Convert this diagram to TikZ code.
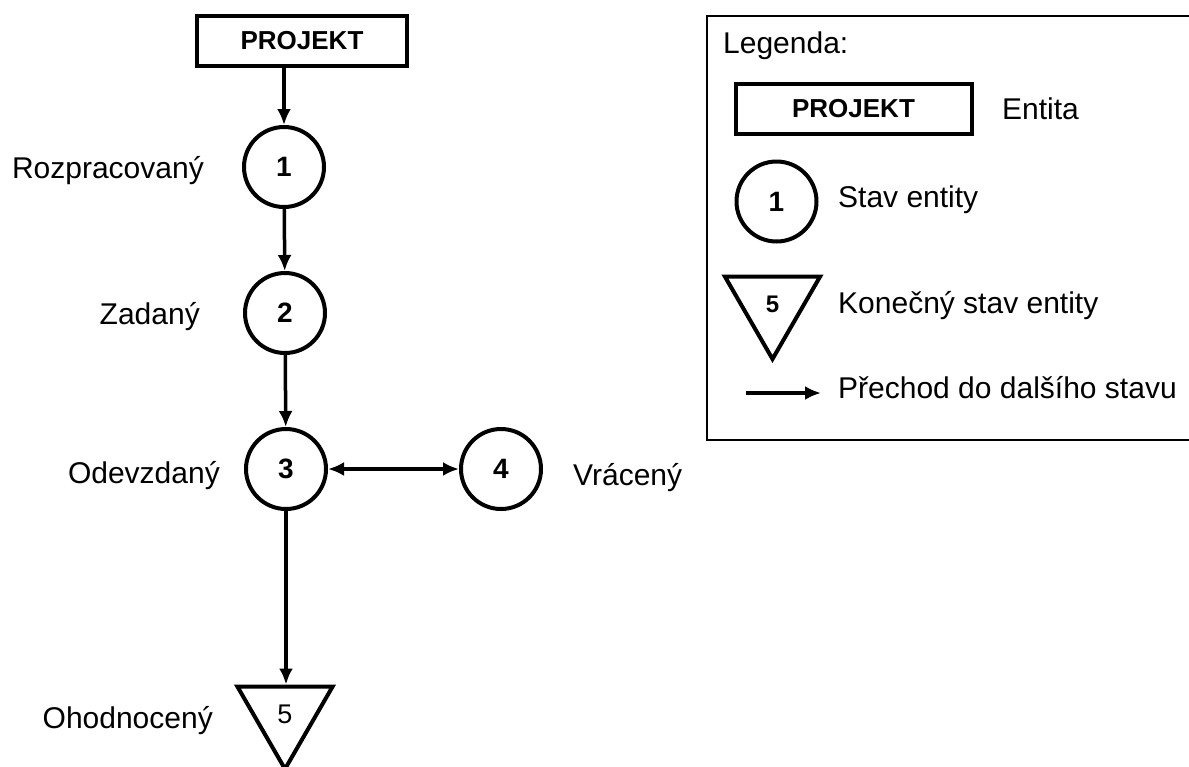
\documentclass[tikz,border=0pt]{standalone}
\usepackage{fontspec}
\setmainfont{Liberation Sans}
\usepackage{tikz}
\usetikzlibrary{arrows.meta}
\usetikzlibrary{shapes.geometric}
\usetikzlibrary{positioning,calc}
\tikzstyle{entita}=[rectangle,draw=black,line width=4pt,minimum height=50pt,font=\fontsize{26}{30}\selectfont\bfseries]
\tikzstyle{stav}=[circle,draw=black,line width=4pt,minimum size=80pt,inner sep=0pt,font=\fontsize{28}{32}\selectfont\bfseries]
\tikzstyle{konec}=[regular polygon,regular polygon sides=3,shape border rotate=180,draw=black,line width=4pt,minimum size=110pt,inner sep=0pt,font=\fontsize{27}{30}\selectfont]
\tikzstyle{popis}=[inner sep=0pt,font=\fontsize{30}{34}\selectfont]
\tikzset{prechod/.style={line width=3.5pt},
  >={Latex[length=16pt,width=14pt]}
}

\begin{document}
\begin{tikzpicture}[x=1pt,y=-1pt]
  \useasboundingbox (0,0) rectangle (1189,766);

  % diagram stavu
  \node [entita,minimum width=210pt] (projekt) at (302,41) {PROJEKT};
  \node [stav] (s1) at (284,167) {1};
  \node [stav] (s2) at (285,313) {2};
  \node [stav] (s3) at (286,469) {3};
  \node [stav] (s4) at (501,469) {4};
  \node [konec] (s5) at (285,714) {5};

  \node [popis,anchor=base east] (l1) at (204,178) {Rozpracovaný};
  \node [popis,anchor=base east] (l2) at (200,324) {Zadaný};
  \node [popis,anchor=base east] (l3) at (220,483) {Odevzdaný};
  \node [popis,anchor=base west] (l4) at (573,485) {Vrácený};
  \node [popis,anchor=base east] (l5) at (213,728) {Ohodnocený};

  \draw [prechod,->] (projekt.south -| s1.north) -- (s1.north);
  \draw [prechod,->] (s1) -- (s2);
  \draw [prechod,->] (s2) -- (s3);
  \draw [prechod,<->] (s3) -- (s4);
  \draw [prechod,->] (s3.south) -- (s3.south |- s5.north);

  % legenda
  \draw [line width=2pt] (707,16) rectangle (1200,440);
  \node [popis,anchor=base west] (legenda) at (723,53) {Legenda:};
  \node [entita,minimum width=236pt] (leg entita) at (853.5,109) {PROJEKT};
  \node [popis,anchor=base west] (leg entita txt) at (1002,119) {Entita};
  \node [stav] (leg stav) at (776.5,201.5) {1};
  \node [popis,anchor=base west] (leg stav txt) at (838,207) {Stav entity};
  \node [konec,font=\fontsize{24}{28}\selectfont\bfseries] (leg konec) at (772.5,304) {5};
  \node [popis,anchor=base west] (leg konec txt) at (838,313) {Konečný stav entity};
  \coordinate (leg a) at (746,393);
  \coordinate (leg b) at (821,393);
  \draw [prechod,->] (leg a) -- (leg b);
  \node [popis,anchor=base west] (leg prechod txt) at (838,398) {Přechod do dalšího stavu};
\end{tikzpicture}
\end{document}
